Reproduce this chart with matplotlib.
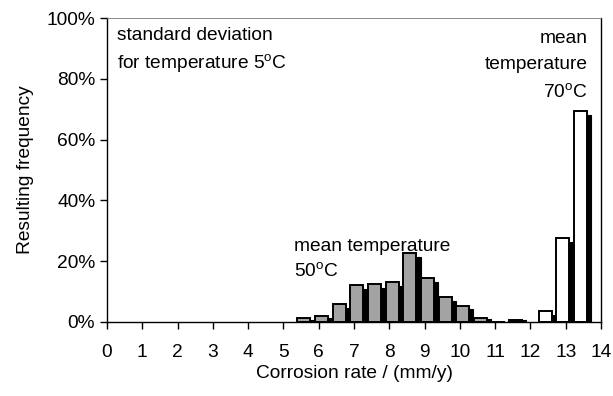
import matplotlib
matplotlib.use("Agg")
import matplotlib.pyplot as plt

plt.rcParams['font.family'] = ['Liberation Sans', 'DejaVu Sans']

# 50 C histogram (bar centres in mm/y, frequency in %)
x50 = [5.58, 6.08, 6.58, 7.08, 7.58, 8.08, 8.58, 9.08, 9.58, 10.08, 10.58, 11.08, 11.58]
h50 = [1.3, 1.9, 5.8, 12.1, 12.6, 13.1, 22.6, 14.6, 8.3, 5.4, 1.4, 0.0, 0.8]
# 70 C histogram
x70 = [12.42, 12.92, 13.42]
h70 = [3.7, 27.7, 69.4]

xticks = list(range(0, 15))
yticks = [0, 20, 40, 60, 80, 100]
ytick_labels = [f"{v}%" for v in yticks]

W = 0.37      # front face width
DX = 0.12     # side (shadow) offset
DY = 1.3      # side top drop, in %

fig = plt.figure(figsize=(6.13, 3.96), dpi=100)
ax = fig.add_axes([0.1745, 0.187, 0.806, 0.7675])

def bars3d(xs, hs, face):
    sx = [x + DX for x in xs]
    sh = [max(h - DY, h * 0.6) for h in hs]
    ax.bar(sx, sh, width=W, color="black", edgecolor="black", lw=0.8, zorder=1)
    ax.bar(xs, hs, width=W, color=face, edgecolor="black", lw=1.4, zorder=2)

bars3d(x50, h50, "#a3a3a3")
bars3d(x70, h70, "white")

fs = 13.8
ax.set_xlim(0, 14)
ax.set_ylim(0, 100)
ax.set_xticks(xticks)
ax.set_yticks(yticks)
ax.set_yticklabels(ytick_labels)
ax.tick_params(direction="out", length=5, width=1, labelsize=fs, colors="black")
ax.tick_params(axis="x", pad=11)
for s in ax.spines.values():
    s.set_linewidth(1.0)
ax.spines["top"].set_color("#777777")
ax.spines["top"].set_linewidth(0.6)

ax.set_xlabel("Corrosion rate / (mm/y)", fontsize=fs, labelpad=3)
ax.set_ylabel("Resulting frequency", fontsize=fs, labelpad=9)

ax.text(0.28, 97, "standard deviation", fontsize=fs, va="top")
ax.text(0.28, 88.8, r"for temperature 5$^\mathregular{o}$C", fontsize=fs, va="top")
ax.text(5.3, 27.5, "mean temperature", fontsize=fs, va="top")
ax.text(5.3, 19.5, r"50$^\mathregular{o}$C", fontsize=fs, va="top")
ax.text(13.62, 96, "mean", fontsize=fs, va="top", ha="right")
ax.text(13.62, 87.5, "temperature", fontsize=fs, va="top", ha="right")
ax.text(13.62, 78.5, r"70$^\mathregular{o}$C", fontsize=fs, va="top", ha="right")

fig.savefig("out.png", dpi=100)
